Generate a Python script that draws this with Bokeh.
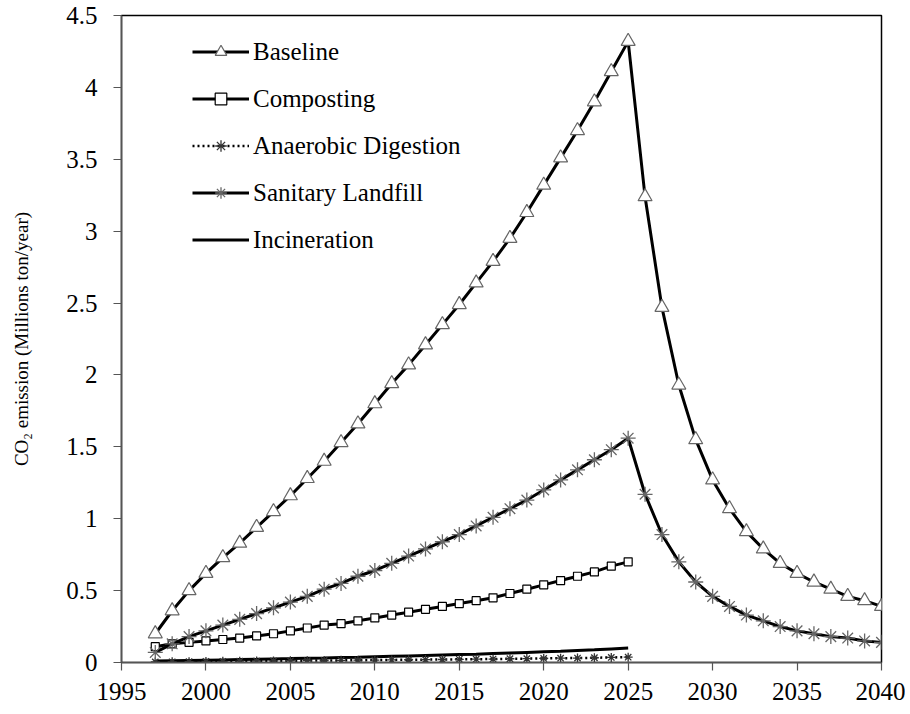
from bokeh.plotting import figure
from bokeh.models import FixedTicker, Legend, LegendItem, Range1d
from bokeh.embed import file_html
from bokeh.resources import INLINE

# ---- data ----
years_all = list(range(1997, 2041))
years_pre = list(range(1997, 2026))

baseline = [0.20, 0.36, 0.50, 0.62, 0.73, 0.83, 0.94, 1.05, 1.16, 1.28,
            1.40, 1.53, 1.66, 1.80, 1.94, 2.07, 2.21, 2.35, 2.49, 2.64,
            2.79, 2.95, 3.13, 3.32, 3.51, 3.70, 3.90, 4.11, 4.32,
            3.24, 2.47, 1.93, 1.55, 1.27, 1.07, 0.91, 0.79, 0.69, 0.62,
            0.56, 0.51, 0.46, 0.43, 0.39]

landfill = [0.07, 0.13, 0.18, 0.22, 0.26, 0.30, 0.34, 0.38, 0.42, 0.46,
            0.51, 0.55, 0.60, 0.64, 0.69, 0.74, 0.79, 0.84, 0.89, 0.95,
            1.01, 1.07, 1.13, 1.20, 1.27, 1.34, 1.41, 1.48, 1.56,
            1.17, 0.89, 0.70, 0.56, 0.46, 0.39, 0.33, 0.29, 0.25, 0.22,
            0.20, 0.18, 0.17, 0.15, 0.14]

composting = [0.11, 0.13, 0.14, 0.15, 0.16, 0.17, 0.185, 0.20, 0.22, 0.24,
              0.26, 0.27, 0.29, 0.31, 0.33, 0.35, 0.37, 0.39, 0.41, 0.43,
              0.45, 0.48, 0.51, 0.54, 0.57, 0.60, 0.63, 0.67, 0.70]

anaerobic = [0.004, 0.005, 0.006, 0.007, 0.008, 0.009, 0.010, 0.011, 0.012, 0.013,
             0.014, 0.015, 0.016, 0.017, 0.018, 0.019, 0.020, 0.021, 0.022, 0.023,
             0.024, 0.026, 0.027, 0.028, 0.030, 0.031, 0.033, 0.035, 0.037]

incineration = [0.010, 0.012, 0.014, 0.016, 0.018, 0.020, 0.022, 0.025, 0.027, 0.030,
                0.032, 0.035, 0.037, 0.040, 0.043, 0.046, 0.049, 0.052, 0.055, 0.058,
                0.062, 0.066, 0.070, 0.074, 0.078, 0.083, 0.088, 0.094, 0.100]

x_ticks = [1995, 2000, 2005, 2010, 2015, 2020, 2025, 2030, 2035, 2040]
y_ticks = [0, 0.5, 1, 1.5, 2, 2.5, 3, 3.5, 4, 4.5]
y_tick_labels = ["0", "0.5", "1", "1.5", "2", "2.5", "3", "3.5", "4", "4.5"]

FONT = "Liberation Serif"

p = figure(width=905, height=712, output_backend="svg", toolbar_location=None,
           x_range=Range1d(1995, 2040), y_range=Range1d(0, 4.5),
           min_border_left=121, min_border_right=24, min_border_top=15,
           min_border_bottom=50)
p.background_fill_color = "white"
p.border_fill_color = "white"
p.grid.visible = False
p.outline_line_color = "black"
p.outline_line_width = 1.5

# series
r_inc = p.line(years_pre, incineration, line_color="black", line_width=3)

r_ad_l = p.line(years_pre, anaerobic, line_color="black", line_width=2.5, line_dash="2 3")
r_ad_m = p.scatter(years_pre, anaerobic, marker="asterisk", size=9,
                   line_color="#333333", line_width=1.3)

r_cp_l = p.line(years_pre, composting, line_color="black", line_width=3)
r_cp_m = p.scatter(years_pre, composting, marker="square", size=8,
                   fill_color="white", line_color="black", line_width=1.2)

r_lf_l = p.line(years_all, landfill, line_color="black", line_width=3)
r_lf_m = p.scatter(years_all, landfill, marker="asterisk", size=15,
                   line_color="#666666", line_width=1.3)

r_bl_l = p.line(years_all, baseline, line_color="black", line_width=3)
r_bl_m = p.scatter(years_all, baseline, marker="triangle", size=14,
                   fill_color="white", line_color="#666666", line_width=1.2)

legend = Legend(items=[
    LegendItem(label="Baseline", renderers=[r_bl_l, r_bl_m]),
    LegendItem(label="Composting", renderers=[r_cp_l, r_cp_m]),
    LegendItem(label="Anaerobic Digestion", renderers=[r_ad_l, r_ad_m]),
    LegendItem(label="Sanitary Landfill", renderers=[r_lf_l, r_lf_m]),
    LegendItem(label="Incineration", renderers=[r_inc]),
], location=(71, 408))
legend.border_line_color = None
legend.background_fill_alpha = 0
legend.padding = 0
legend.margin = 0
legend.glyph_width = 57
legend.glyph_height = 29
legend.label_height = 29
legend.spacing = 18
legend.label_standoff = 4
legend.label_text_font = FONT
legend.label_text_font_size = "25px"
legend.label_text_color = "black"
p.add_layout(legend)

# axes
p.xaxis.ticker = FixedTicker(ticks=x_ticks)
p.yaxis.ticker = FixedTicker(ticks=y_ticks)
p.yaxis.major_label_overrides = {t: l for t, l in zip(y_ticks, y_tick_labels)}
for ax in (p.xaxis, p.yaxis):
    ax.axis_line_color = "#555555"
    ax.axis_line_width = 1.5
    ax.major_tick_line_color = "#555555"
    ax.major_tick_line_width = 1.2
    ax.major_tick_out = 8
    ax.major_tick_in = 0
    ax.minor_tick_line_color = None
    ax.major_label_text_font = FONT
    ax.major_label_text_font_size = "25px"
    ax.major_label_text_color = "black"
p.xaxis.major_label_standoff = 12
p.yaxis.major_label_standoff = 16

p.yaxis.axis_label = "CO\u2082 emission (Millions ton/year)"
p.yaxis.axis_label_text_font = FONT
p.yaxis.axis_label_text_font_size = "19px"
p.yaxis.axis_label_text_font_style = "normal"
p.yaxis.axis_label_text_color = "black"
p.yaxis.axis_label_standoff = 31

open("out.html", "w").write(file_html(p, INLINE))
